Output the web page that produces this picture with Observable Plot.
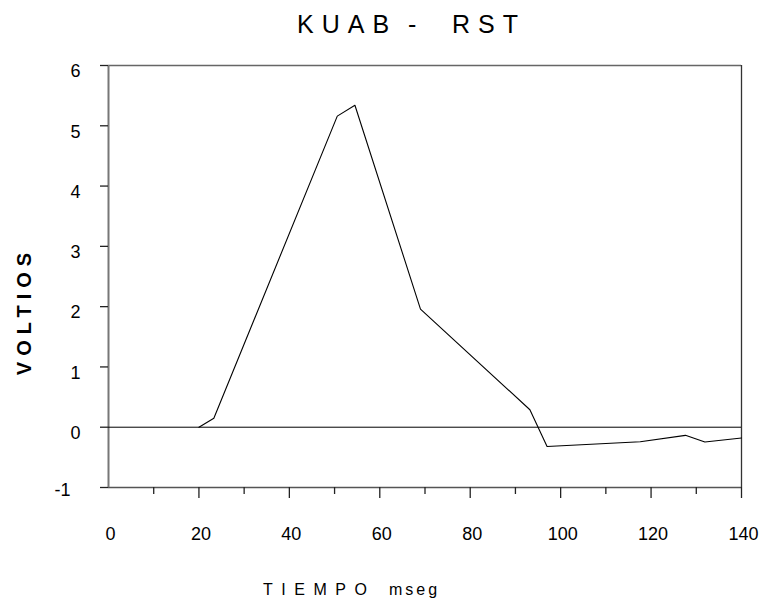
<!DOCTYPE html>
<html>
<head>
<meta charset="utf-8">
<script src="https://cdn.jsdelivr.net/npm/d3@7"></script>
<script src="https://cdn.jsdelivr.net/npm/@observablehq/plot@0.6"></script>
<style>
  html, body { margin: 0; padding: 0; background: #fff; }
  #chart { width: 760px; height: 605px; }
</style>
</head>
<body>
<div id="chart"></div>
<script>
// Data
const tiempo  = [20, 23.3, 50.6, 54.5, 69.0, 93.2, 97.0, 117.6, 127.6, 131.9, 140];
const voltios = [0, 0.15, 5.16, 5.34, 1.96, 0.29, -0.32, -0.24, -0.135, -0.245, -0.18];
const xMajorTicks = [20, 40, 60, 80, 100, 120, 140];
const xMinorTicks = [10, 30, 50, 70, 90, 110, 130];
const xTickLabels = [0, 20, 40, 60, 80, 100, 120, 140];
const yTickLabels = [0, 1, 2, 3, 4, 5, 6];
const yNegLabels = [-1];
const yTicks = [-1, 0, 1, 2, 3, 4, 5, 6];
const titleParts = ["KUAB", "-", "RST"];
const xTitle1 = "TIEMPO";
const xTitle2 = "mseg";
const yTitle = "VOLTIOS";

const data = tiempo.map((t, i) => ({t, v: voltios[i]}));
const font = "'Liberation Sans', Arial, sans-serif";

const chart = Plot.plot({
  width: 760,
  height: 605,
  marginLeft: 108,
  marginRight: 19,
  marginTop: 65,
  marginBottom: 118,
  style: {fontFamily: font, fontSize: "18px", color: "#000", background: "#fff"},
  x: {domain: [0, 140], label: null},
  y: {domain: [-1, 6], label: null},
  marks: [
    // frame lines
    Plot.ruleY([6], {stroke: "#666", strokeWidth: 1.3}),
    Plot.ruleX([140], {stroke: "#333", strokeWidth: 1.3}),
    Plot.ruleY([-1], {stroke: "#555", strokeWidth: 1.5}),
    Plot.ruleX([0], {stroke: "#777", strokeWidth: 2}),
    // zero line
    Plot.ruleY([0], {stroke: "#000", strokeWidth: 1}),
    // x ticks
    Plot.axisX({ticks: xMajorTicks, tickSize: 11, tickFormat: () => "", label: null, stroke: "#222", strokeWidth: 1.3}),
    Plot.axisX({ticks: xMinorTicks, tickSize: 7, tickFormat: () => "", label: null, stroke: "#222", strokeWidth: 1.3}),
    Plot.axisX({ticks: xTickLabels, tickSize: 0, tickPadding: 40, dx: 2, label: null, tickFormat: d => String(d), fill: "#000"}),
    // y ticks and labels
    Plot.axisY({ticks: yTicks, tickSize: 8, tickFormat: () => "", label: null, stroke: "#222", strokeWidth: 1.3}),
    Plot.axisY({ticks: yTickLabels, tickSize: 0, tickPadding: 28, dy: 6, label: null, tickFormat: d => String(d), fill: "#000"}),
    Plot.axisY({ticks: yNegLabels, tickSize: 0, tickPadding: 38, dy: 3, label: null, tickFormat: d => String(d), fill: "#000"}),
    // data line
    Plot.line(data, {x: "t", y: "v", stroke: "#000", strokeWidth: 1.1})
  ]
});

const svg = d3.select(chart);
const tt = svg.append("text")
  .attr("y", 33)
  .attr("text-anchor", "start")
  .attr("font-family", font).attr("font-size", 25)
  .attr("letter-spacing", 8)
  .attr("fill", "#000");
const titleX = [297, 408, 452];
titleParts.forEach((p, i) => tt.append("tspan").attr("x", titleX[i]).text(p));

const xt = svg.append("text")
  .attr("y", 595)
  .attr("text-anchor", "start")
  .attr("font-family", font).attr("font-size", 16)
  .attr("fill", "#000");
xt.append("tspan").attr("x", 263).attr("letter-spacing", 8.5).text(xTitle1);
xt.append("tspan").attr("x", 389).attr("letter-spacing", 3).text(xTitle2);

svg.append("text")
  .attr("transform", "translate(31,311) rotate(-90)")
  .attr("text-anchor", "middle")
  .attr("font-family", font).attr("font-size", 20).attr("font-weight", "bold")
  .attr("letter-spacing", 6)
  .attr("fill", "#000")
  .text(yTitle);

document.getElementById("chart").appendChild(chart);
</script>
</body>
</html>
